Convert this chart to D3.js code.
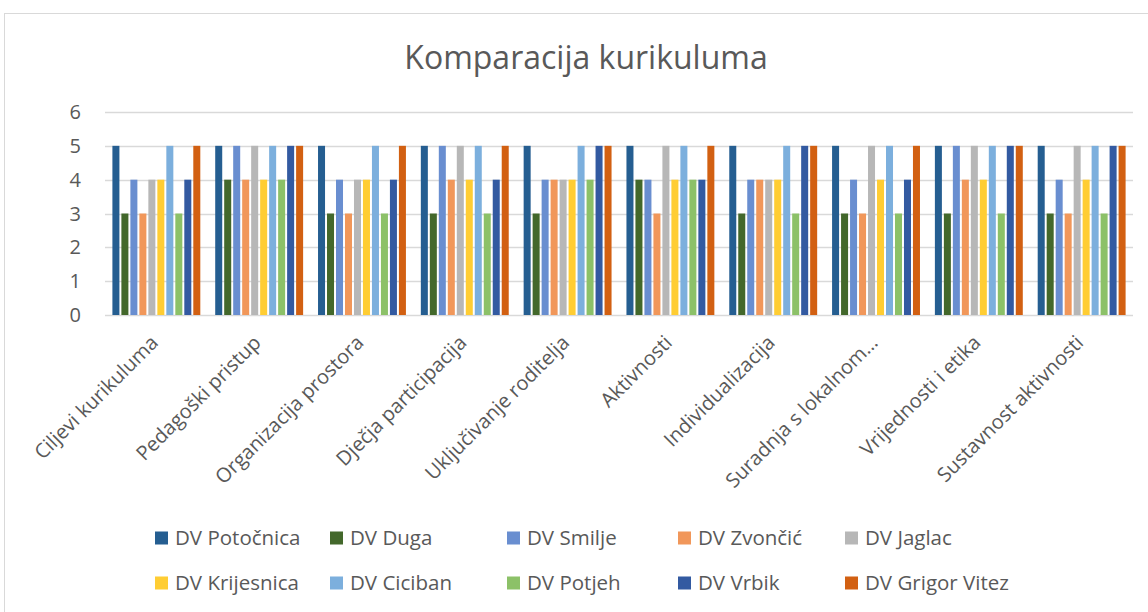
<!DOCTYPE html>
<html>
<head>
<meta charset="utf-8">
<script src="https://cdn.jsdelivr.net/npm/d3@7"></script>
<style>
  body { margin: 0; background: #fff; }
  svg { font-family: "Open Sans", sans-serif; }
</style>
</head>
<body>
<svg id="chart"></svg>
<script>
const categories = [
  'Ciljevi kurikuluma', 'Pedagoški pristup', 'Organizacija prostora', 'Dječja participacija',
  'Uključivanje roditelja', 'Aktivnosti', 'Individualizacija', 'Suradnja s lokalnom…',
  'Vrijednosti i etika', 'Sustavnost aktivnosti'
]
const seriesNames = [
  'DV Potočnica', 'DV Duga', 'DV Smilje', 'DV Zvončić', 'DV Jaglac',
  'DV Krijesnica', 'DV Ciciban', 'DV Potjeh', 'DV Vrbik', 'DV Grigor Vitez'
]
// one array per series, values in category order
const potocnica  = [5, 5, 5, 5, 5, 5, 5, 5, 5, 5]
const duga       = [3, 4, 3, 3, 3, 4, 3, 3, 3, 3]
const smilje     = [4, 5, 4, 5, 4, 4, 4, 4, 5, 4]
const zvoncic    = [3, 4, 3, 4, 4, 3, 4, 3, 4, 3]
const jaglac     = [4, 5, 4, 5, 4, 5, 4, 5, 5, 5]
const krijesnica = [4, 4, 4, 4, 4, 4, 4, 4, 4, 4]
const ciciban    = [5, 5, 5, 5, 5, 5, 5, 5, 5, 5]
const potjeh     = [3, 4, 3, 3, 4, 4, 3, 3, 3, 3]
const vrbik      = [4, 5, 4, 4, 5, 4, 5, 4, 5, 5]
const grigor     = [5, 5, 5, 5, 5, 5, 5, 5, 5, 5]
const yTicks = [0, 1, 2, 3, 4, 5, 6]

const seriesValues = [potocnica, duga, smilje, zvoncic, jaglac, krijesnica, ciciban, potjeh, vrbik, grigor]
const colors = ['#255e91', '#43682b', '#698ed0', '#f1975a', '#b7b7b7',
                '#ffcd33', '#7cafdd', '#8cc168', '#335aa1', '#d26012']

const W = 1148, H = 612
const plot = { left: 105, right: 1133, top: 112, bottom: 315 }

const svg = d3.select('#chart').attr('width', W).attr('height', H)

// chart frame
svg.append('rect')
  .attr('x', 4.5).attr('y', 13.5)
  .attr('width', W + 10).attr('height', H + 10)
  .attr('fill', '#fff').attr('stroke', '#d9d9d9')

svg.append('text')
  .attr('x', 586).attr('y', 69)
  .attr('text-anchor', 'middle')
  .attr('font-size', 32)
  .attr('fill', '#595959')
  .text('Komparacija kurikuluma')

const x0 = d3.scaleBand().domain(categories)
  .range([plot.left, plot.right]).paddingInner(0.145).paddingOuter(0.072)
const x1 = d3.scaleBand().domain(seriesNames)
  .range([0, x0.bandwidth()]).paddingInner(0.22)
const y = d3.scaleLinear().domain([0, 6]).range([plot.bottom, plot.top])

// gridlines
svg.append('g').selectAll('line')
  .data(yTicks)
  .join('line')
    .attr('x1', plot.left).attr('x2', plot.right)
    .attr('y1', d => Math.round(y(d)) + 0.5).attr('y2', d => Math.round(y(d)) + 0.5)
    .attr('stroke', '#d9d9d9').attr('stroke-width', 1.3)

// y labels
svg.append('g').selectAll('text')
  .data(yTicks)
  .join('text')
    .attr('x', 81).attr('y', d => y(d))
    .attr('dy', '0.35em')
    .attr('text-anchor', 'end')
    .attr('font-size', 20)
    .attr('fill', '#595959')
    .text(d => d)

// bars
const groups = svg.append('g').selectAll('g')
  .data(categories)
  .join('g')
    .attr('transform', d => `translate(${x0(d)},0)`)

groups.selectAll('rect')
  .data((c, ci) => seriesNames.map((s, si) => ({ s, si, v: seriesValues[si][ci] })))
  .join('rect')
    .attr('x', d => x1(d.s))
    .attr('width', x1.bandwidth())
    .attr('y', d => y(d.v))
    .attr('height', d => y(0) - y(d.v))
    .attr('fill', d => colors[d.si])

// category labels
svg.append('g').selectAll('text')
  .data(categories)
  .join('text')
    .attr('transform', d => `translate(${x0(d) + x0.bandwidth() / 2 + 3},${plot.bottom + 29}) rotate(-45)`)
    .attr('text-anchor', 'end')
    .attr('font-size', 20)
    .attr('fill', '#595959')
    .text(d => d)

// legend
const legendCols = [155, 330, 507, 678, 845]
const legendRows = [538, 583]
const legend = svg.append('g').selectAll('g')
  .data(seriesNames)
  .join('g')
    .attr('transform', (d, i) => `translate(${legendCols[i % 5]},${legendRows[Math.floor(i / 5)]})`)

legend.append('rect')
  .attr('x', 0).attr('y', -6.5)
  .attr('width', 13).attr('height', 13)
  .attr('fill', (d, i) => colors[i])

legend.append('text')
  .attr('x', 20).attr('dy', '0.35em')
  .attr('font-size', 20.5)
  .attr('fill', '#595959')
  .text(d => d)
</script>
</body>
</html>
